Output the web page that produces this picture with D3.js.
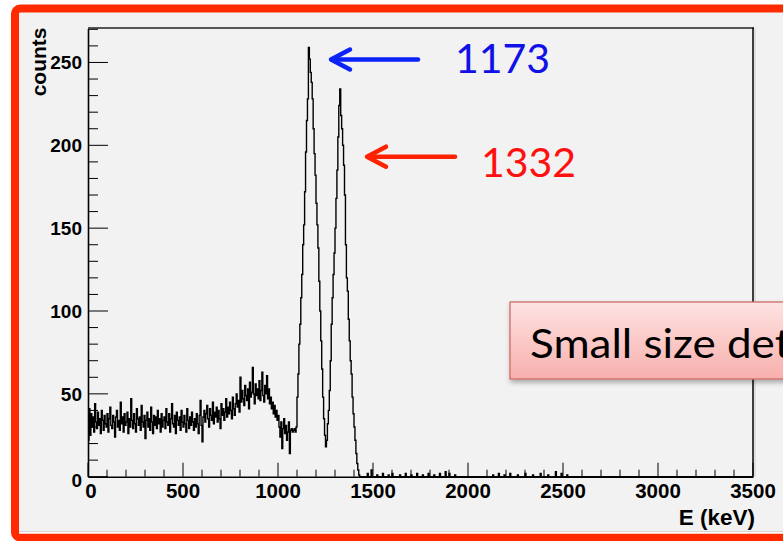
<!DOCTYPE html>
<html><head><meta charset="utf-8">
<script src="https://cdn.jsdelivr.net/npm/d3@7"></script>
<style>html,body{margin:0;padding:0;background:#fff;overflow:hidden;} svg{display:block;}</style>
</head><body>
<svg id="c" width="783" height="541"></svg>
<script>
// ---------------- DATA ----------------
const binWidthKeV = 5;
// counts per 5 keV bin, starting at 0 keV (0 .. 1095 keV): Compton background
const backgroundCounts = [
 22,41,25,38,30,36,27,44,33,29,39,31,35,26,40,34,28,37,32,30,
 38,27,35,42,31,29,37,33,24,36,40,30,34,28,45,32,36,27,38,31,
 33,39,26,35,30,47,34,29,38,32,27,41,35,31,36,28,43,33,30,37,
 23,34,39,30,35,28,42,33,26,37,31,36,29,40,32,35,27,38,30,34,
 36,29,41,33,31,38,27,35,44,32,30,37,26,39,34,31,36,28,40,33,
 30,37,32,27,41,34,29,36,31,39,33,28,35,30,38,32,26,37,46,31,
 21,36,40,33,38,43,35,30,41,37,34,45,32,39,36,42,33,40,35,29,
 44,37,41,34,39,47,36,42,38,45,40,35,48,41,37,44,50,42,46,39,
 60,45,52,47,43,55,49,46,53,41,57,48,51,66,50,44,56,49,53,47,
 58,46,52,63,49,45,55,50,61,47,53,44,48,41,45,38,43,36,40,34,
 37,30,24,33,17,29,35,26,31,22,27,33,14,28,29,27,28,29,27,30
];
// counts per 5 keV bin from 1100 to 1435 keV (the two photopeaks)
const peakCounts = [
 48,62,80,92,108,122,140,152,172,196,
 215,228,259,252,244,238,228,210,195,182,
 165,152,138,118,100,82,65,48,35,25,
 18,22,32,40,52,70,92,108,122,135,
 150,168,185,205,224,234,218,210,200,188,
 170,140,120,112,95,82,70,62,48,38,
 30,22,14,8,4,1,0,0
];
// sparse tail above the peaks
const tailEnergies = [1470,1490,1520,1550,1580,1600,1640,1670,1700,1730,1760,1790,1820,1850,1880,1900,1930,2130,2160,2190,2220,2260,2300,2340,2380,2420,2460,2490,2520];
const tailCounts   = [2,4,1,2,1,2,1,2,1,2,1,2,1,2,3,2,1,1,2,1,2,1,2,1,2,1,3,2,1];

const xTickValues = [0,500,1000,1500,2000,2500,3000,3500];
const yTickValues = [0,50,100,150,200,250];
const xTitle = "E (keV)";
const yTitle = "counts";
const peakLabels = ["1173","1332"];
const boxText = "Small size detector";

// ---------------- BUILD HISTOGRAM ----------------
const xMax = 3500, yMax = 270.5;
const nBins = xMax / binWidthKeV;
const counts = new Array(nBins).fill(0);
backgroundCounts.forEach((c,i)=>{counts[i]=c;});
const peakStart = backgroundCounts.length;
peakCounts.forEach((c,i)=>{counts[peakStart+i]=c;});
tailEnergies.forEach((e,i)=>{counts[Math.round(e/binWidthKeV)]=tailCounts[i];});
const bins = counts.map((c,i)=>({e:i*binWidthKeV, c}));
bins.push({e:nBins*binWidthKeV, c:counts[nBins-1]});

// ---------------- LAYOUT ----------------
const svg = d3.select("#c");
const L = 88, R = 753, T = 28.5, B = 476.7;
const x = d3.scaleLinear().domain([0, xMax]).range([L, R]);
const y = d3.scaleLinear().domain([0, yMax]).range([B, T]);
const FONT = "Liberation Sans, Arial, sans-serif";

// red outer frame + gray canvas
svg.append("rect").attr("x",0).attr("y",0).attr("width",783).attr("height",541).attr("fill","#fff");
svg.append("rect").attr("x",15).attr("y",8.5).attr("width",820).attr("height",529)
  .attr("rx",5).attr("fill","#f2f2f2").attr("stroke","#ff2a00").attr("stroke-width",8);
svg.append("line").attr("x1",19).attr("x2",783).attr("y1",531.5).attr("y2",531.5).attr("stroke","#d4d4d4").attr("stroke-width",1);
svg.append("line").attr("x1",19).attr("x2",783).attr("y1",532.8).attr("y2",532.8).attr("stroke","#ffffff").attr("stroke-width",1.4);

// plot frame
svg.append("line").attr("x1",L).attr("x2",R+1).attr("y1",T-0.5).attr("y2",T-0.5).attr("stroke","#555").attr("stroke-width",2);
svg.append("line").attr("x1",R+2).attr("x2",R+2).attr("y1",T).attr("y2",B).attr("stroke","#d8d8d8").attr("stroke-width",1.5);
svg.append("line").attr("x1",R).attr("x2",R).attr("y1",T-1).attr("y2",B).attr("stroke","#111").attr("stroke-width",1.6);

// histogram
svg.append("clipPath").attr("id","pc").append("rect").attr("x",L).attr("y",T-2).attr("width",R-L).attr("height",B-T+4);
const line = d3.line().x(d=>x(d.e)).y(d=>y(d.c)).curve(d3.curveStepAfter);
svg.append("path").datum(bins).attr("clip-path","url(#pc)").attr("d",line)
  .attr("fill","none").attr("stroke","#000").attr("stroke-width",1.4).attr("stroke-linejoin","miter");

// axes (ticks inside)
const xMinor = d3.range(0, xMax+1, 100);
const yMinor = d3.range(0, yMax, 10);
const gx = svg.append("g").attr("transform",`translate(0,${B})`);
gx.call(d3.axisBottom(x).tickValues(xMinor).tickSize(0).tickFormat(""));
gx.selectAll(".tick line").remove();
gx.select(".domain").attr("stroke","#000").attr("stroke-width",1.6);
gx.selectAll("line.mt").data(xMinor).enter().append("line")
  .attr("x1",d=>x(d)).attr("x2",d=>x(d)).attr("y1",0).attr("y2",d=>d%500===0?-14:-7)
  .attr("stroke","#000").attr("stroke-width",1);
gx.selectAll("text.xl").data(xTickValues).enter().append("text")
  .attr("x",d=>x(d)+(d===0?3:0)).attr("y",21).attr("text-anchor","middle")
  .attr("font-family",FONT).attr("font-weight","bold").attr("font-size",20.5)
  .attr("fill","#000").text(d=>d);

const gy = svg.append("g").attr("transform",`translate(${L},0)`);
gy.call(d3.axisLeft(y).tickValues(yMinor).tickSize(0).tickFormat(""));
gy.selectAll(".tick line").remove();
gy.select(".domain").attr("stroke","#000").attr("stroke-width",1.6);
gy.selectAll("line.mt").data(yMinor).enter().append("line")
  .attr("x1",0).attr("x2",d=>d%50===0?20:10).attr("y1",d=>y(d)).attr("y2",d=>y(d))
  .attr("stroke","#000").attr("stroke-width",1);
gy.selectAll("text.yl").data(yTickValues).enter().append("text")
  .attr("x",-6).attr("y",d=>y(d)+7+(d===0?3:0)).attr("text-anchor","end")
  .attr("font-family",FONT).attr("font-weight","bold").attr("font-size",19)
  .attr("fill","#000").text(d=>d);

// axis titles
svg.append("text").attr("x",R+2).attr("y",525).attr("text-anchor","end")
  .attr("font-family",FONT).attr("font-weight","bold").attr("font-size",22.5)
  .attr("fill","#000").text(xTitle);
svg.append("text").attr("transform",`translate(46,${T-1}) rotate(-90)`).attr("text-anchor","end")
  .attr("font-family",FONT).attr("font-weight","bold").attr("font-size",21)
  .attr("fill","#000").text(yTitle);

// annotations
const annColors = ["#0b22fb","#ff2200"];
const textColors = ["#1010e8","#ff1010"];
const arrows = [
  {x1:418, x2:331, y:59.5, tx:455, ty:73},
  {x1:455, x2:367, y:156.7, tx:481, ty:177}
];
arrows.forEach((a,i)=>{
  const g = svg.append("g").attr("stroke",annColors[i]).attr("stroke-width",4.5).attr("stroke-linecap","round").attr("fill","none");
  g.append("line").attr("x1",a.x1).attr("x2",a.x2+1).attr("y1",a.y).attr("y2",a.y);
  g.append("path").attr("d",`M${a.x2+19},${a.y-10} L${a.x2},${a.y} L${a.x2+19},${a.y+10}`).attr("stroke-linejoin","round");
  svg.append("text").attr("x",a.tx).attr("y",a.ty).attr("font-family","Lato, 'Open Sans', sans-serif")
    .attr("font-size",41).attr("fill",textColors[i]).text(peakLabels[i]);
});

// text box (cut off by the right edge, as in the slide)
const defs = svg.append("defs");
const grad = defs.append("linearGradient").attr("id","bg").attr("x1",0).attr("y1",0).attr("x2",0).attr("y2",1);
grad.append("stop").attr("offset","0%").attr("stop-color","#fde3e2");
grad.append("stop").attr("offset","100%").attr("stop-color","#f8b0ad");
const f = defs.append("filter").attr("id","sh").attr("x","-10%").attr("y","-20%").attr("width","130%").attr("height","160%");
f.append("feDropShadow").attr("dx",1).attr("dy",3).attr("stdDeviation",2.5).attr("flood-color","#000").attr("flood-opacity",0.3);
svg.append("rect").attr("x",510).attr("y",302).attr("width",320).attr("height",77)
  .attr("fill","url(#bg)").attr("stroke","#cf6a66").attr("stroke-width",1.3).attr("filter","url(#sh)");
svg.append("text").attr("transform","translate(530,358) scale(1.1,1)").attr("font-family","Lato, 'Open Sans', sans-serif")
  .attr("font-size",40).attr("fill","#000").text(boxText);
</script>
</body></html>
